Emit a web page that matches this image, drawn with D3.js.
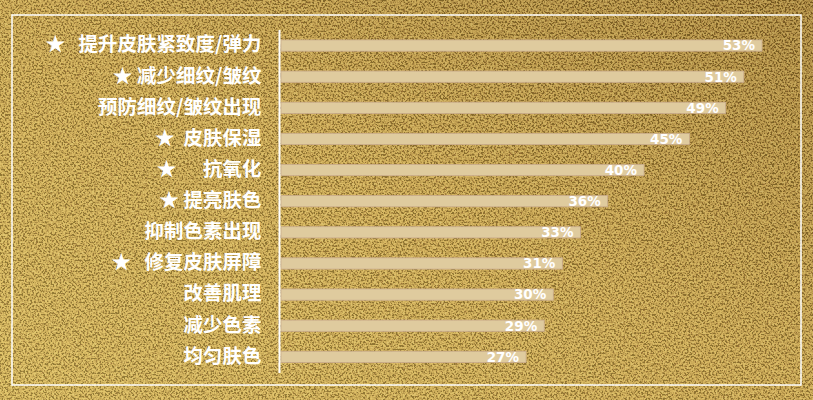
<!DOCTYPE html>
<html>
<head>
<meta charset="utf-8">
<script src="https://cdn.jsdelivr.net/npm/d3@7/dist/d3.min.js"></script>
<style>
  html, body { margin: 0; padding: 0; background: #c9a445; }
  svg { display: block; }
</style>
</head>
<body>
<svg id="chart" width="813" height="400"></svg>
<script>
// ---- data ----
const categories = [
  "★   提升皮肤紧致度/弹力",
  "★ 减少细纹/皱纹",
  "预防细纹/皱纹出现",
  "★  皮肤保湿",
  "★      抗氧化",
  "★ 提亮肤色",
  "抑制色素出现",
  "★   修复皮肤屏障",
  "改善肌理",
  "减少色素",
  "均匀肤色"
];
const values = [53, 51, 49, 45, 40, 36, 33, 31, 30, 29, 27];
const valueLabels = values.map(v => v + "%");

// ---- layout ----
const W = 813, H = 400;
const svg = d3.select("#chart");
const defs = svg.append("defs");

const grad = defs.append("linearGradient").attr("id", "bg")
  .attr("x1", "0%").attr("y1", "100%").attr("x2", "100%").attr("y2", "0%");
grad.append("stop").attr("offset", "0%").attr("stop-color", "#d6b450");
grad.append("stop").attr("offset", "50%").attr("stop-color", "#c9a244");
grad.append("stop").attr("offset", "100%").attr("stop-color", "#a47c2c");

const f = defs.append("filter").attr("id", "noise")
  .attr("x", 0).attr("y", 0).attr("width", "100%").attr("height", "100%");
f.append("feTurbulence").attr("type", "fractalNoise").attr("baseFrequency", 0.55)
  .attr("numOctaves", 2).attr("seed", 7).attr("result", "t");
f.append("feColorMatrix").attr("type", "matrix")
  .attr("values", "4 0 0 0 -1.5  3.4 0 0 0 -1.3  1.6 0 0 0 -0.6  0 0 0 0 0.3");

svg.append("rect").attr("width", W).attr("height", H).attr("fill", "url(#bg)");
svg.append("rect").attr("width", W).attr("height", H).attr("filter", "url(#noise)");

// frame
svg.append("rect").attr("x", 12).attr("y", 15).attr("width", 789).attr("height", 370)
  .attr("fill", "none").attr("stroke", "#fff").attr("stroke-width", 1.5);

const x = d3.scaleLinear().domain([0, 53]).range([281, 762]);
const y = d3.scaleBand().domain(categories).range([30, 372.4])
  .paddingInner(0.64).paddingOuter(0.32);

// bars
svg.append("g").selectAll("rect").data(values).join("rect")
  .attr("x", x(0))
  .attr("y", (d, i) => y(categories[i]))
  .attr("width", d => x(d) - x(0))
  .attr("height", y.bandwidth())
  .attr("fill", "#dfcb9e")
  .attr("stroke", "#c9ab8c")
  .attr("stroke-width", 0.8);

// value labels
svg.append("g").selectAll("text").data(valueLabels).join("text")
  .attr("x", (d, i) => x(values[i]) - 7)
  .attr("y", (d, i) => y(categories[i]) + y.bandwidth() / 2)
  .attr("dy", "0.36em")
  .attr("text-anchor", "end")
  .attr("fill", "#fff")
  .attr("font-family", "DejaVu Sans")
  .attr("font-weight", "bold")
  .attr("font-size", 13.5)
  .text(d => d);

// axis (category labels)
const axis = d3.axisLeft(y).tickSize(0).tickPadding(18);
const ag = svg.append("g").attr("transform", `translate(279.5,0)`).call(axis);
ag.select(".domain").attr("stroke", "#fff").attr("stroke-width", 2)
  .attr("d", `M0,30V373`);
ag.selectAll(".tick text")
  .attr("fill", "#fff")
  .attr("font-family", "'Noto Sans CJK SC', sans-serif")
  .attr("font-weight", "bold")
  .attr("font-size", 19.5)
  .attr("dy", "0.3em")
  .style("white-space", "pre");
</script>
</body>
</html>
